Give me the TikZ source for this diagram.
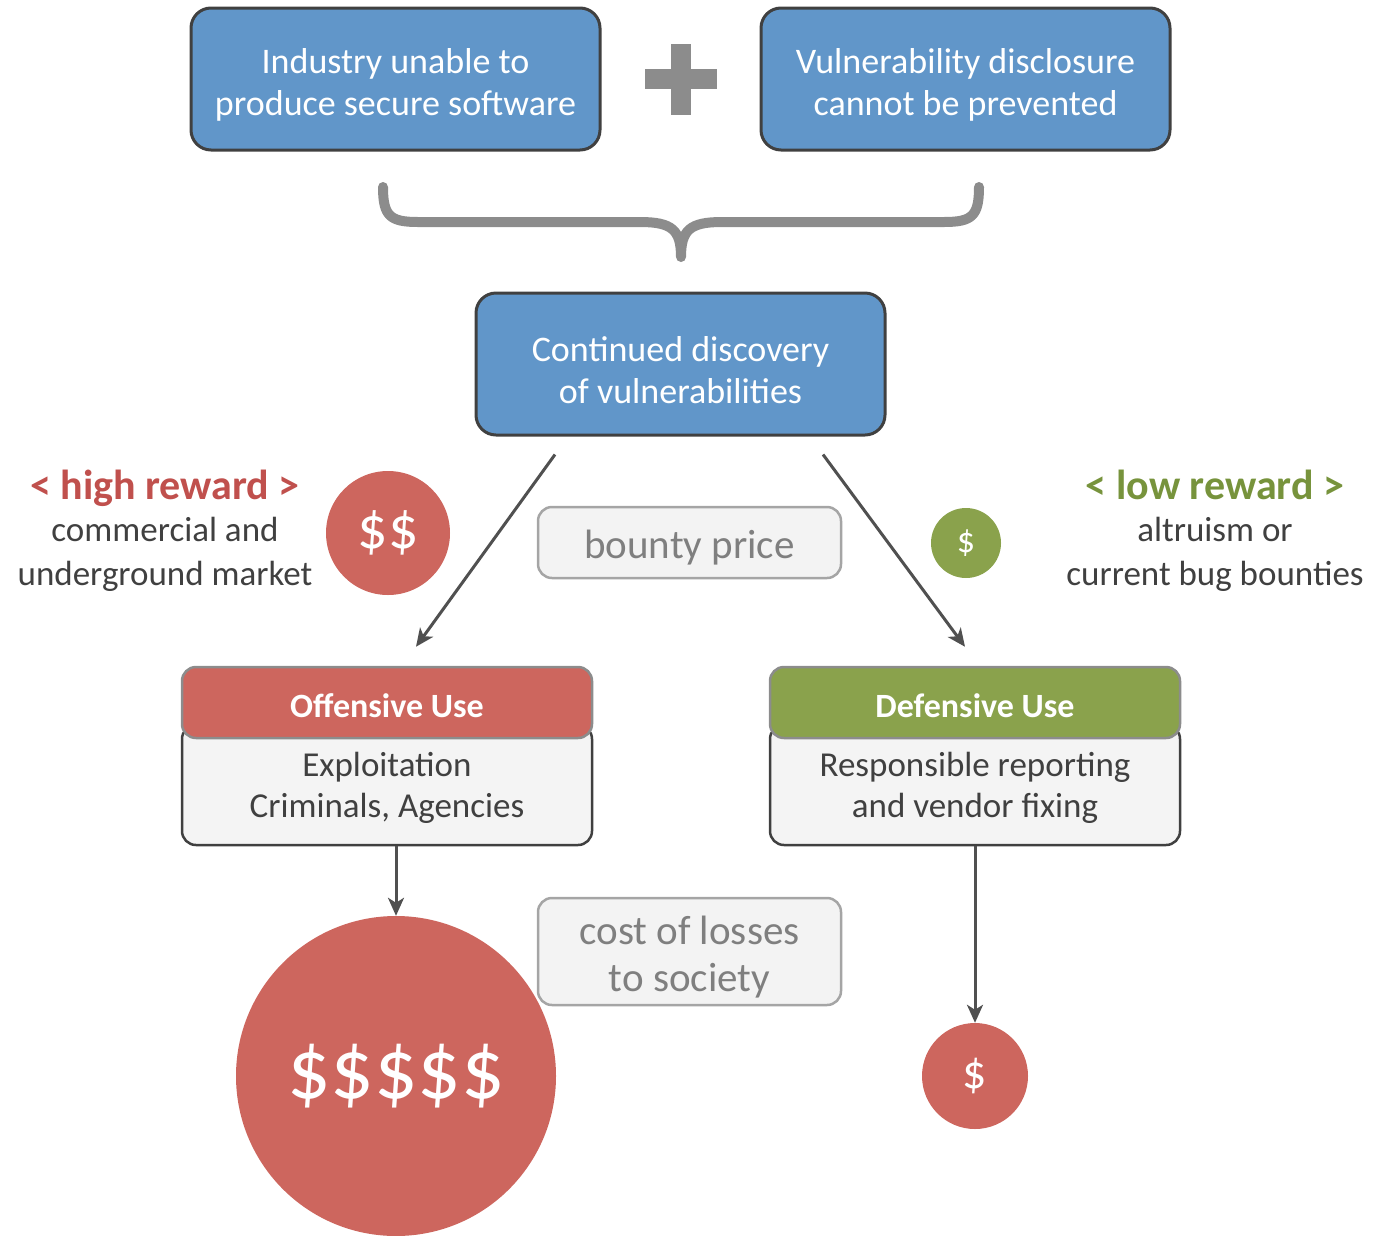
\documentclass[tikz,border=0pt]{standalone}
\usepackage{fontspec}
\setmainfont{Carlito}
\usetikzlibrary{arrows.meta}

\definecolor{boxblue}{RGB}{97,150,201}
\definecolor{edgedark}{RGB}{64,64,64}
\definecolor{coinred}{RGB}{205,102,94}
\definecolor{coingreen}{RGB}{138,162,76}
\definecolor{redtext}{RGB}{192,80,77}
\definecolor{greentext}{RGB}{119,147,60}
\definecolor{textdark}{RGB}{64,64,64}
\definecolor{notefill}{RGB}{243,243,243}
\definecolor{noteedge}{RGB}{165,165,165}
\definecolor{notetext}{RGB}{127,127,127}
\definecolor{braceray}{RGB}{140,140,140}
\definecolor{arrowgray}{RGB}{80,80,80}
\definecolor{bodyfill}{RGB}{244,244,244}
\definecolor{headedge}{RGB}{140,140,140}

\tikzset{
  bluebox/.style={draw=edgedark, line width=3pt, fill=boxblue, rounded corners=20pt,
    minimum width=409pt, minimum height=142pt},
  bluetext/.style={text=white, align=center, font=\fontsize{36}{42}\selectfont},
  notebox/.style={draw=noteedge, line width=2.5pt, fill=notefill, rounded corners=14pt,
    minimum width=303pt},
  notetxt/.style={text=notetext, align=center, font=\fontsize{41}{47}\selectfont},
  coin/.style={circle, fill=#1, text=white, inner sep=0pt},
  flow/.style={draw=arrowgray, line width=3pt, -{Stealth[length=18pt,width=16pt,inset=5pt]}},
  usebody/.style={draw=edgedark, line width=2.5pt, fill=bodyfill, rounded corners=14pt,
    minimum width=410pt, minimum height=120pt},
  bodytext/.style={text=textdark, align=center, font=\fontsize{35}{41}\selectfont},
  usehead/.style={draw=headedge, line width=2.5pt, fill=#1, rounded corners=14pt,
    minimum width=410pt, minimum height=71pt},
  headtext/.style={text=white, font=\fontsize{34}{40}\selectfont\bfseries},
  sidetext/.style={text=textdark, anchor=base, font=\fontsize{35}{42}\selectfont},
  rewardtext/.style={text=#1, anchor=base, font=\fontsize{42}{48}\selectfont\bfseries},
}

\begin{document}
\begin{tikzpicture}[x=1pt,y=-1pt]
\useasboundingbox (0,0) rectangle (1373,1235);

% two causes, joined by a plus
\node[bluebox] (ind) at (395.5,79) {};
\node[bluetext] (indt) at ([yshift=-6pt]ind.center) {Industry unable to\\produce secure software};
\node[bluebox] (dis) at (965.5,79) {};
\node[bluetext] (dist) at ([yshift=-6pt]dis.center) {Vulnerability disclosure\\cannot be prevented};
\fill[braceray] (645,69) rectangle (717,89);
\fill[braceray] (671,44) rectangle (691,115);

% curly brace gathering both causes
\draw[braceray, line width=10pt, line cap=round, line join=round]
  (383,187) .. controls (383,216) and (390,222) .. (418,222) -- (640,222)
  .. controls (672,222) and (681,230) .. (681,257)
  .. controls (681,230) and (690,222) .. (722,222) -- (944,222)
  .. controls (972,222) and (979,216) .. (979,187);

% consequence
\node[bluebox] (cont) at (680.5,364) {};
\node[bluetext] (contt) at ([yshift=-6pt]cont.center) {Continued discovery\\of vulnerabilities};

% reward annotations
\node[rewardtext=redtext] (hr) at (165,499) {< high reward >};
\node[sidetext] (hr1) at (165,541) {commercial and};
\node[sidetext] (hr2) at (165,585) {underground market};
\node[coin=coinred, minimum size=124pt, font=\fontsize{60}{64}\selectfont] (c2) at (388,533) {\$\$};

\node[notebox, minimum height=71pt] (bp) at (689.5,542.5) {};
\node[notetxt] (bpt) at ([yshift=-5pt]bp.center) {bounty price};

\node[coin=coingreen, minimum size=70pt, font=\fontsize{36}{40}\selectfont] (c1) at (966,543) {\$};
\node[rewardtext=greentext] (lr) at (1215,499) {< low reward >};
\node[sidetext] (lr1) at (1215,541) {altruism or};
\node[sidetext] (lr2) at (1215,585) {current bug bounties};

% offensive use
\node[usebody] (ob) at (387,785) {};
\node[bodytext] (obt) at ([yshift=-3pt]ob.center) {Exploitation\\Criminals, Agencies};
\node[usehead=coinred] (oh) at (387,702.5) {};
\node[headtext] (oht) at ([yshift=-3pt]oh.center) {Offensive Use};

% defensive use
\node[usebody] (db) at (975,785) {};
\node[bodytext] (dbt) at ([yshift=-3pt]db.center) {Responsible reporting\\and vendor fixing};
\node[usehead=coingreen] (dh) at (975,702.5) {};
\node[headtext] (dht) at ([yshift=-3pt]dh.center) {Defensive Use};

% branches
\draw[flow] ([xshift=-125.5pt,yshift=-18pt]cont.south) -- ([xshift=29pt,yshift=19pt]oh.north);
\draw[flow] ([xshift=142.5pt,yshift=-18pt]cont.south) -- ([xshift=-10pt,yshift=19pt]dh.north);

% losses
\node[coin=coinred, minimum size=320pt, font=\fontsize{86}{90}\selectfont] (big) at (396,1076) {\$\$\$\$\$};
\node[coin=coinred, minimum size=106pt, font=\fontsize{48}{52}\selectfont] (small) at (975,1076) {\$};
\node[notebox, minimum height=107pt] (cost) at (689.5,951.5) {};
\node[notetxt] (costt) at ([yshift=-6pt]cost.center) {cost of losses\\to society};

\draw[flow] (ob.south -| big.north) -- (big.north);
\draw[flow] (db.south) -- (small.north);
\end{tikzpicture}
\end{document}
